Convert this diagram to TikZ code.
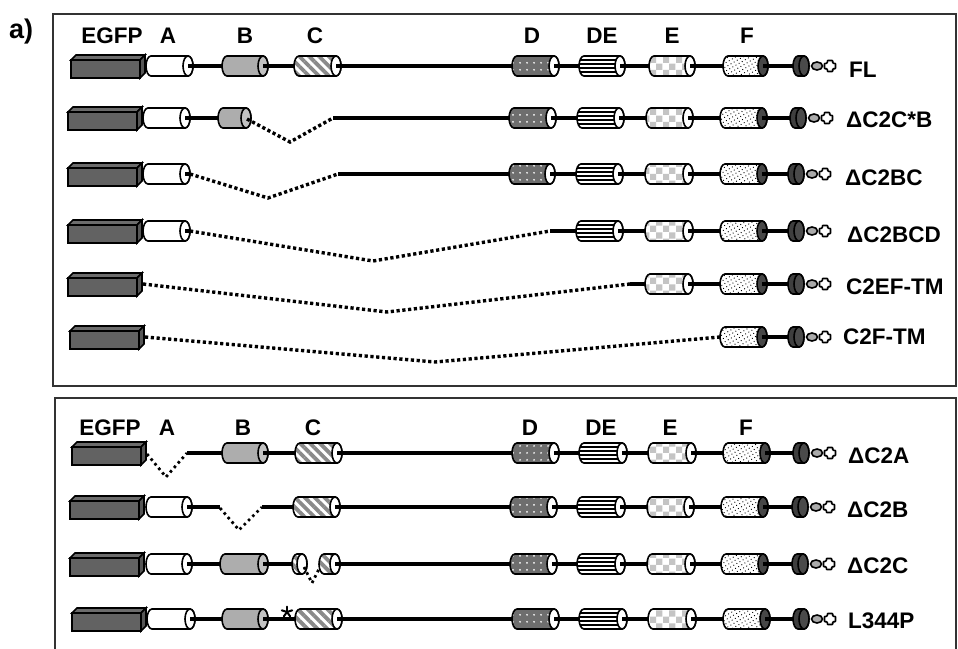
\documentclass[tikz,border=0pt]{standalone}
\usepackage{fontspec}
\setmainfont{Liberation Sans}
\usetikzlibrary{patterns,patterns.meta}

% checkerboard fill for the E domain
\pgfdeclarepatternformonly{checks}{\pgfpointorigin}{\pgfqpoint{13pt}{13pt}}{\pgfqpoint{13pt}{13pt}}{%
  \pgfpathrectangle{\pgfpointorigin}{\pgfqpoint{6.5pt}{6.5pt}}%
  \pgfpathrectangle{\pgfqpoint{6.5pt}{6.5pt}}{\pgfqpoint{6.5pt}{6.5pt}}%
  \pgfusepath{fill}}

\definecolor{egfpgray}{HTML}{626262}
\definecolor{egfptop}{HTML}{6C6C6C}
\definecolor{egfpside}{HTML}{565656}
\definecolor{bgray}{HTML}{ADADAD}
\definecolor{bend}{HTML}{C2C2C2}
\definecolor{cgray}{HTML}{8A8A8A}
\definecolor{dgray}{HTML}{6E6E6E}
\definecolor{egray}{HTML}{C4C4C4}
\definecolor{fend}{HTML}{474747}
\definecolor{tmgray}{HTML}{3E3E3E}
\definecolor{tmend}{HTML}{4A4A4A}
\definecolor{lgray}{HTML}{AAAAAA}
\definecolor{framegray}{HTML}{333333}

\tikzset{
  cylline/.style={draw=black, line width=1.6pt},
  conn/.style={line width=3.3pt, black},
  gap/.style={line width=3.4pt, dash pattern=on 3.2pt off 2.6pt},
  smallgap/.style={line width=2.8pt, dash pattern=on 2.6pt off 3.4pt},
  Abody/.style={cylline, fill=white},
  Bbody/.style={cylline, fill=bgray},
  Cbody/.style={cylline, preaction={fill=white}, pattern={Lines[angle=-45,distance=7pt,line width=3.8pt]}, pattern color=cgray},
  Dbody/.style={cylline, preaction={fill=dgray}, pattern={Dots[radius=1pt,distance=6.5pt]}, pattern color=white},
  Ebody/.style={cylline, preaction={fill=white}, pattern=checks, pattern color=egray},
  Fbody/.style={cylline, preaction={fill=white}, pattern={Dots[radius=0.65pt,distance=3.6pt,angle=30]}, pattern color=black},
  TMbody/.style={cylline, fill=tmgray},
  frame/.style={draw=framegray, line width=1.7pt},
  lab/.style={font=\fontsize{22.5}{25}\selectfont\bfseries, inner sep=0pt},
}

% domain cylinder: left x, right x, centre y, body style, end cap colour
\newcommand{\cyl}[5]{%
  \path[#4] (#1+5,#3-10) -- (#2-5,#3-10)
    arc[start angle=-90,end angle=90,x radius=5,y radius=10]
    -- (#1+5,#3+10)
    arc[start angle=90,end angle=270,x radius=5,y radius=10] -- cycle;
  \draw[cylline, fill=#5] (#2-5,#3) ellipse[x radius=5,y radius=10];
}
% striped DE domain
\newcommand{\decyl}[3]{%
  \begin{scope}
    \clip (#1+5,#3-10) -- (#2-5,#3-10)
      arc[start angle=-90,end angle=90,x radius=5,y radius=10]
      -- (#1+5,#3+10)
      arc[start angle=90,end angle=270,x radius=5,y radius=10] -- cycle;
    \fill[white] (#1,#3-11) rectangle (#2,#3+11);
    \foreach \o in {-6,-2,2,6} \draw[line width=1.8pt] (#1,#3+\o) -- (#2,#3+\o);
  \end{scope}
  \path[cylline] (#1+5,#3-10) -- (#2-5,#3-10)
    arc[start angle=-90,end angle=90,x radius=5,y radius=10]
    -- (#1+5,#3+10)
    arc[start angle=90,end angle=270,x radius=5,y radius=10] -- cycle;
  \draw[cylline, fill=white] (#2-5,#3) ellipse[x radius=5,y radius=10];
}
% EGFP block: front left x, centre y
\newcommand{\egfp}[2]{%
  \draw[cylline, fill=egfptop] (#1,#2-6) -- (#1+5,#2-11) -- (#1+74,#2-11) -- (#1+69,#2-6) -- cycle;
  \draw[cylline, fill=egfpside] (#1+69,#2-6) -- (#1+74,#2-11) -- (#1+74,#2+7) -- (#1+69,#2+12) -- cycle;
  \draw[cylline, fill=egfpgray] (#1,#2-6) rectangle (#1+69,#2+12);
}
% transmembrane segment with the two small end markers
\newcommand{\tail}[2]{%
  \cyl{#1}{#1+16}{#2}{TMbody}{tmend}
  \draw[cylline, fill=lgray] (#1+24,#2) ellipse[x radius=5.5,y radius=4];
  \draw[cylline, fill=white, rounded corners=0.8pt] (#1+34.3,#2-5.5) -- ++(5.4,0) -- ++(0,2.8) -- ++(2.8,0) -- ++(0,5.4)
    -- ++(-2.8,0) -- ++(0,2.8) -- ++(-5.4,0) -- ++(0,-2.8) -- ++(-2.8,0) -- ++(0,-5.4) -- ++(2.8,0) -- cycle;
}

\begin{document}
\begin{tikzpicture}[x=1pt,y=-1pt]
\useasboundingbox (0,0) rectangle (958,648);
\clip (0,0) rectangle (958,648);
\fill[white] (0,0) rectangle (958,648);

\node[font=\fontsize{27}{29}\selectfont\bfseries, anchor=base west, inner sep=0pt] (panel) at (9,38) {a)};

% frames
\draw[frame] (53,14) rectangle (956,386);
\draw[frame] (55,398) rectangle (956,680);

% ---------- upper panel headers ----------
\node[lab, anchor=base] (hEGFP) at (112,43) {EGFP};
\node[lab, anchor=base] (hA) at (168,43) {A};
\node[lab, anchor=base] (hB) at (245,43) {B};
\node[lab, anchor=base] (hC) at (315,43) {C};
\node[lab, anchor=base] (hD) at (532,43) {D};
\node[lab, anchor=base] (hDE) at (602,43) {DE};
\node[lab, anchor=base] (hE) at (672,43) {E};
\node[lab, anchor=base] (hF) at (747,43) {F};

% FL
\egfp{71}{66}
\cyl{146}{193}{66}{Abody}{white}
\cyl{222}{268}{66}{Bbody}{bend}
\cyl{294}{341}{66}{Cbody}{white}
\cyl{512}{559}{66}{Dbody}{white}
\decyl{579}{625}{66}
\cyl{649}{695}{66}{Ebody}{white}
\cyl{723}{768}{66}{Fbody}{fend}
\tail{793}{66}
\foreach \a/\b in {188/222,263/294,336/512,554/579,620/649,690/723,763/793} \draw[conn] (\a,66) -- (\b,66);
\node[lab, anchor=base west] (lFL) at (849,77) {FL};

% dC2C*B
\egfp{68}{118}
\cyl{143}{190}{118}{Abody}{white}
\cyl{218}{251}{118}{Bbody}{bend}
\cyl{509}{556}{118}{Dbody}{white}
\decyl{577}{624}{118}
\cyl{646}{693}{118}{Ebody}{white}
\cyl{720}{767}{118}{Fbody}{fend}
\tail{790}{118}
\foreach \a/\b in {185/218,333/509,551/577,619/646,688/720,762/790} \draw[conn] (\a,118) -- (\b,118);
\draw[gap] (247,119) -- (290,142) -- (333,118);
\node[lab, anchor=base west] (lCB) at (846,127) {ΔC2C*B};

% dC2BC
\egfp{68}{174}
\cyl{143}{190}{174}{Abody}{white}
\cyl{509}{555}{174}{Dbody}{white}
\decyl{576}{623}{174}
\cyl{645}{693}{174}{Ebody}{white}
\cyl{720}{767}{174}{Fbody}{fend}
\tail{788}{174}
\foreach \a/\b in {338/509,550/576,618/645,688/720,762/788} \draw[conn] (\a,174) -- (\b,174);
\draw[conn] (185,174) -- (190,174);
\draw[gap] (190,174) -- (268,198) -- (338,174);
\node[lab, anchor=base west] (lBC) at (845,185) {ΔC2BC};

% dC2BCD
\egfp{68}{231}
\cyl{143}{190}{231}{Abody}{white}
\decyl{576}{623}{231}
\cyl{645}{693}{231}{Ebody}{white}
\cyl{720}{767}{231}{Fbody}{fend}
\tail{788}{231}
\foreach \a/\b in {550/576,618/645,688/720,762/788} \draw[conn] (\a,231) -- (\b,231);
\draw[conn] (185,231) -- (190,231);
\draw[gap] (190,231) -- (373,261) -- (550,231);
\node[lab, anchor=base west] (lBCD) at (847,242) {ΔC2BCD};

% C2EF-TM
\egfp{68}{284}
\cyl{645}{693}{284}{Ebody}{white}
\cyl{720}{767}{284}{Fbody}{fend}
\tail{788}{284}
\foreach \a/\b in {630/645,688/720,762/788} \draw[conn] (\a,284) -- (\b,284);
\draw[gap] (143,284) -- (387,312) -- (630,284);
\node[lab, anchor=base west] (lEF) at (846,294) {C2EF-TM};

% C2F-TM
\egfp{70}{337}
\cyl{720}{767}{337}{Fbody}{fend}
\tail{788}{337}
\draw[conn] (762,337) -- (788,337);
\draw[gap] (145,337) -- (435,362) -- (720,337);
\node[lab, anchor=base west] (lF) at (843,344) {C2F-TM};

% ---------- lower panel headers ----------
\node[lab, anchor=base] (kEGFP) at (110,435) {EGFP};
\node[lab, anchor=base] (kA) at (167,435) {A};
\node[lab, anchor=base] (kB) at (243,435) {B};
\node[lab, anchor=base] (kC) at (313,435) {C};
\node[lab, anchor=base] (kD) at (530,435) {D};
\node[lab, anchor=base] (kDE) at (601,435) {DE};
\node[lab, anchor=base] (kE) at (670,435) {E};
\node[lab, anchor=base] (kF) at (746,435) {F};

% dC2A
\egfp{72}{453}
\cyl{222}{268}{453}{Bbody}{bend}
\cyl{295}{342}{453}{Cbody}{white}
\cyl{512}{559}{453}{Dbody}{white}
\decyl{579}{627}{453}
\cyl{648}{696}{453}{Ebody}{white}
\cyl{723}{770}{453}{Fbody}{fend}
\tail{793}{453}
\foreach \a/\b in {187/222,263/295,337/512,554/579,622/648,691/723,765/793} \draw[conn] (\a,453) -- (\b,453);
\draw[smallgap] (147,454) -- (166,477) -- (187,453);
\node[lab, anchor=base west] (lA) at (848,463) {ΔC2A};

% dC2B
\egfp{70}{507}
\cyl{146}{192}{507}{Abody}{white}
\cyl{293}{340}{507}{Cbody}{white}
\cyl{510}{557}{507}{Dbody}{white}
\decyl{577}{625}{507}
\cyl{647}{694}{507}{Ebody}{white}
\cyl{721}{768}{507}{Fbody}{fend}
\tail{792}{507}
\foreach \a/\b in {187/220,262/293,335/510,552/577,620/647,689/721,763/792} \draw[conn] (\a,507) -- (\b,507);
\draw[smallgap] (220,508) -- (239,530) -- (262,507);
\node[lab, anchor=base west] (lB) at (847,517) {ΔC2B};

% dC2C
\egfp{70}{564}
\cyl{146}{192}{564}{Abody}{white}
\cyl{220}{268}{564}{Bbody}{bend}
\cyl{292}{307}{564}{Cbody}{white}
\cyl{319}{340}{564}{Cbody}{white}
\cyl{510}{557}{564}{Dbody}{white}
\decyl{577}{625}{564}
\cyl{647}{695}{564}{Ebody}{white}
\cyl{721}{768}{564}{Fbody}{fend}
\tail{792}{564}
\foreach \a/\b in {187/220,263/292,335/510,552/577,620/647,690/721,763/792} \draw[conn] (\a,564) -- (\b,564);
\draw[smallgap] (304,567) -- (312,583) -- (320,567);
\node[lab, anchor=base west] (lC) at (847,573) {ΔC2C};

% L344P
\egfp{72}{619}
\cyl{147}{195}{619}{Abody}{white}
\cyl{222}{268}{619}{Bbody}{bend}
\cyl{295}{342}{619}{Cbody}{white}
\cyl{512}{559}{619}{Dbody}{white}
\decyl{579}{627}{619}
\cyl{648}{696}{619}{Ebody}{white}
\cyl{723}{770}{619}{Fbody}{fend}
\tail{793}{619}
\foreach \a/\b in {190/222,263/295,337/512,554/579,622/648,691/723,765/793} \draw[conn] (\a,619) -- (\b,619);
\coordinate (mut) at (287,612);
\foreach \ang in {90,162,234,306,18}
  \draw[line width=2pt, line cap=round] (mut) -- ++({5.5*cos(\ang)},{-5.5*sin(\ang)});
\node[lab, anchor=base west] (lP) at (848,628) {L344P};

\end{tikzpicture}
\end{document}
